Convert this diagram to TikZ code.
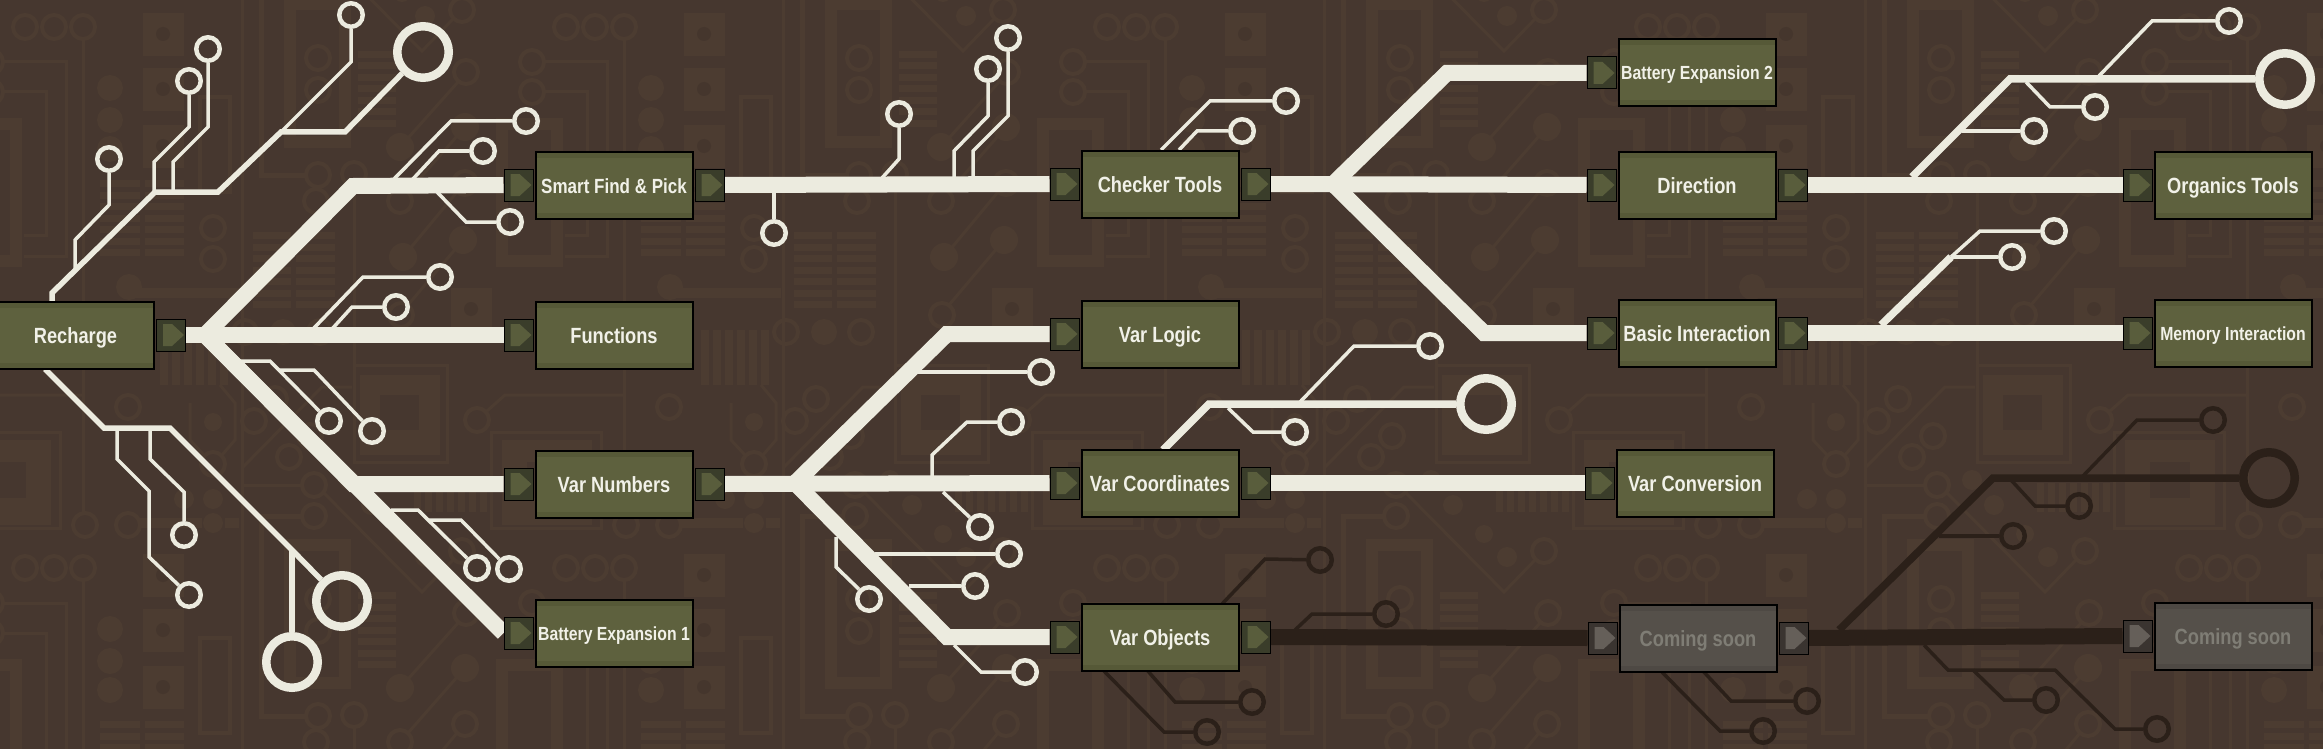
\documentclass[tikz,border=0pt]{standalone}
\usepackage{fontspec}
\setmainfont[FakeStretch=0.83]{Liberation Sans}
\usetikzlibrary{positioning}
\definecolor{bgbrown}{HTML}{46372F}
\definecolor{tilebrown}{HTML}{4C3C31}
\definecolor{tiledark}{HTML}{45362D}
\definecolor{cream}{HTML}{ECEBDF}
\definecolor{tracedark}{HTML}{2B2019}
\definecolor{boxgreen}{HTML}{5E613E}
\definecolor{bandgreen}{HTML}{565937}
\definecolor{portgreen}{HTML}{3A3D2A}
\definecolor{tipgreen}{HTML}{595D3C}
\definecolor{boxgrey}{HTML}{55504A}
\definecolor{bandgrey}{HTML}{4E4944}
\definecolor{portgrey}{HTML}{3A3430}
\definecolor{tipgrey}{HTML}{655F59}
\definecolor{labelwhite}{HTML}{F1F1E8}
\definecolor{labelgrey}{HTML}{7F7D75}
\pgfdeclarelayer{board}
\pgfdeclarelayer{traces}
\pgfsetlayers{board,traces,main}
\tikzset{
  techbox/.style 2 args={draw=black,line width=2pt,fill=#1,minimum width=157pt,minimum height=67pt,inner sep=0pt,
    text height=16pt,text depth=0pt,font=\bfseries\fontsize{22}{26}\selectfont,
    path picture={
      \fill[#2] (path picture bounding box.north west) rectangle ([yshift=-6pt]path picture bounding box.north east);
      \fill[#2] (path picture bounding box.south west) rectangle ([yshift=6pt]path picture bounding box.south east);}},
  greenbox/.style={techbox={boxgreen}{bandgreen},text=labelwhite},
  greybox/.style={techbox={boxgrey}{bandgrey},text=labelgrey},
  midlabel/.style={font=\bfseries\fontsize{20.5}{24}\selectfont},
  smalllabel/.style={font=\bfseries\fontsize{19}{23}\selectfont,text height=14pt},
  portbox/.style 2 args={draw=black,line width=1pt,fill=#1,minimum width=29pt,minimum height=32pt,inner sep=0pt,
    path picture={\fill[#2,shift={(path picture bounding box.center)}] (-8,-11) -- (1,-11) -- (13,0) -- (1,11) -- (-8,11) -- cycle;}},
  greenport/.style={portbox={portgreen}{tipgreen}},
  greyport/.style={portbox={portgrey}{tipgrey}},
  bus/.style={line width=16pt,cream},
  midwire/.style={line width=7.5pt,cream},
  lowwire/.style={line width=5.5pt,cream},
  wire/.style={line width=3.5pt,cream},
  darkbus/.style={line width=16pt,tracedark},
  darkmid/.style={line width=7.5pt,tracedark},
  darkwire/.style={line width=3.5pt,tracedark},
  ring/.style={circle,draw=cream,line width=4.5pt,minimum size=23.5pt,inner sep=0pt},
  bigring/.style={circle,draw=cream,line width=8.5pt,minimum size=51.5pt,inner sep=0pt},
  darkring/.style={ring,draw=tracedark},
  darkbig/.style={bigring,draw=tracedark},
  tileline/.style={draw=tilebrown,line width=3pt},
  tilethick/.style={draw=tilebrown,line width=12pt}
}
\newcommand{\circuittile}{
  \foreach \x/\y in {25/27,54/27,83/27,318/58,318/90,213/228,213/259,245/332,320/332,275/399,254/421,310/436,289/457,213/464,314/485,314/516,354/174,318/175,316/201,462/10,466/72,465/183,401/315,400/201,532/62,532/92,477/420,128/407,85/525,128/525}
    \draw[tileline,line width=4pt] (\x,\y) circle (12);
  \foreach \x/\y/\r in {110/88/13,110/120/13,110/149/13,283/332/13,213/422/9,184/499/10,213/499/10,213/523/10,349/480/10,371/505/10,402/534/9,425/16/10,400/147/14,465/127/14,403/257/14,463/240/14,129/287/13}
    \fill[tilebrown] (\x,\y) circle (\r);
  \foreach \x/\y in {143/13,143/68,143/125,451/288}{
    \fill[tilebrown] (\x,\y) rectangle ++(41,43);
    \fill[tiledark] (\x+20,\y+21) circle (7);}
  \foreach \n in {0,...,6}{
    \fill[tilebrown] (100,180+\n*11.5) rectangle ++(40,7);
    \fill[tilebrown] (145,180+\n*11.5) rectangle ++(39,7);
    \fill[tilebrown] (253,232+\n*11.5) rectangle ++(38,7);
    \fill[tilebrown] (296,232+\n*11.5) rectangle ++(39,7);
    \fill[tilebrown] (358,51+\n*11.5) rectangle ++(38,7);
    \fill[tilebrown] (414+\n*11,483) rectangle ++(7,29);}
  \foreach \n in {0,...,5}
    \fill[tilebrown] (160+\n*12,330) rectangle ++(8,55);
  \draw[tilethick] (290,4) rectangle (345,142);
  \draw[tilethick] (502,124) rectangle (557,261);
  \draw[tileline] (354,365) rectangle (447,462);
  \fill[tilebrown] (360,375) rectangle (440,455);
  \fill[bgbrown] (380,395) rectangle (419,430);
  \draw[tileline] (-50,432) rectangle (60,528);
  \fill[tilebrown] (-39,440) rectangle (51,525);
  \fill[bgbrown] (-14,462) rectangle (26,498);
  \draw[tileline] (83,40) -- (83,512);
  \draw[tileline] (242,0) -- (242,541);
  \draw[tileline] (354,187) -- (354,365);
  \draw[tileline,line width=5pt] (303,516) -- (261,516) -- (261,716) -- (305,716);
  \draw[tileline] (352,387) -- (322,387) -- (242,468);
  \draw[tileline] (242,485) -- (301,485);
  \draw[tileline] (324,493) -- (422,592) -- (453,560);
  \draw[tileline] (458,82) -- (400,147);
  \draw[tileline] (465,127) -- (408,192);
  \draw[tileline] (457,192) -- (403,257);
  \draw[tileline] (463,240) -- (408,305);
  \draw[tileline] (545,62) -- (607,62) -- (607,256) -- (565,256);
  \draw[tileline] (545,92) -- (587,92) -- (587,235) -- (565,235);
  \draw[tileline] (487,411) -- (505,395) -- (624,395);
  \draw[tileline,line width=4pt] (200,97) rectangle (230,192);
  \fill[tilebrown] (129,288) rectangle (240,298);
  \fill[tilebrown] (140,518) rectangle (202,528);
  \fill[tilebrown] (225,518) rectangle (239,528);
  \draw[tileline] (220,385) -- (235,403) -- (235,440) -- (222,455);
  \draw[tileline] (190,403) -- (190,440) -- (204,455);
}
\begin{document}
\begin{tikzpicture}[x=1pt,y=-1pt]
  \useasboundingbox (0,0) rectangle (2323,749);
  \begin{pgfonlayer}{board}
    \fill[bgbrown] (0,0) rectangle (2323,749);
    \foreach \tx in {-541,0,541,1082,1623,2164}
      \foreach \ty in {-541,0,541}{
        \begin{scope}[shift={(\tx,\ty)}]
          \circuittile
        \end{scope}
      }
  \end{pgfonlayer}

  \node[greenbox] (recharge) at (75.5,335) {Recharge};
  \node[greenbox,midlabel] (smart) at (614,185) {Smart Find \& Pick};
  \node[greenbox] (functions) at (614,335) {Functions};
  \node[greenbox] (varnumbers) at (614,484) {Var Numbers};
  \node[greenbox,smalllabel] (batteryone) at (614,633) {Battery Expansion 1};
  \node[greenbox] (checker) at (1160,184) {Checker Tools};
  \node[greenbox] (varlogic) at (1160,334) {Var Logic};
  \node[greenbox] (varcoord) at (1160,483) {Var Coordinates};
  \node[greenbox] (varobjects) at (1160,637) {Var Objects};
  \node[greenbox,smalllabel] (batterytwo) at (1697,73) {Battery Expansion 2};
  \node[greenbox] (direction) at (1697,185) {Direction};
  \node[greenbox] (basic) at (1697,333) {Basic Interaction};
  \node[greenbox] (varconv) at (1695,483) {Var Conversion};
  \node[greybox] (soonone) at (1698,638) {Coming soon};
  \node[greenbox] (organics) at (2233,185) {Organics Tools};
  \node[greenbox,smalllabel] (memory) at (2233,333) {Memory Interaction};
  \node[greybox] (soontwo) at (2233,636) {Coming soon};

  \foreach \name in {smart,functions,varnumbers,batteryone,checker,varlogic,varcoord,varobjects,batterytwo,direction,basic,varconv,organics,memory}
    \node[greenport,left=1pt of \name] (\name-in) {};
  \foreach \name in {recharge,smart,varnumbers,checker,direction,basic,varcoord,varobjects}
    \node[greenport,right=1pt of \name] (\name-out) {};
  \node[greyport,left=1pt of soonone] (soonone-in) {};
  \node[greyport,right=1pt of soonone] (soonone-out) {};
  \node[greyport,left=1pt of soontwo] (soontwo-in) {};

  \foreach \name/\sx/\sy/\x/\y in {a/281/132/351/15,b/173/192/208/49,c/154/192/189/81,d/75/270/109/159,
    e/393/180/526/121,f/412/180/483/151,g/437/192/510/222,h/313/329/440/277,i/332/329/396/307,
    j/240/361/329/421,k/279/370/372/431,l/117/428/189/595,m/150/428/184/535,n/391/510/477/568,o/428/520/509/569,
    p/774/192/774/233,q/882/178/899/114,r/954/178/988/69,s/973/178/1008/38,t/1161/150/1286/101,u/1179/150/1242/131,
    v/2098/77/2229/21,w/2026/82/2095/107,x/1962/131/2034/131,y/1951/257/2054/231,z/1951/257/2012/257,
    aa/918/372/1041/372,ab/932/476/1011/422,ac/943/492/980/527,ad/875/554/1009/554,ae/909/586/975/586,
    af/836/537/869/599,ag/954/645/1025/672,ah/1300/402/1430/346,ai/1228/408/1295/432}{
    \coordinate (s\name) at (\sx,\sy);
    \node[ring] (r\name) at (\x,\y) {};
  }
  \foreach \name/\sx/\sy/\x/\y in {a/1222/604/1320/560,b/1295/630/1386/614,c/1147/670/1252/702,d/1103/670/1207/732,
    e/2083/476/2213/420,f/2011/480/2079/506,g/1939/536/2013/536,h/1924/645/2157/729,i/1973/670/2046/700,
    j/1702/670/1807/701,k/1660/670/1763/731}{
    \coordinate (ds\name) at (\sx,\sy);
    \node[darkring] (dr\name) at (\x,\y) {};
  }
  \node[bigring] (bigtop) at (423,52) {};
  \node[bigring] (bigleft) at (342,601) {};
  \node[bigring] (bigdown) at (292,662) {};
  \node[bigring] (bigcoord) at (1486,404) {};
  \node[bigring] (bigdir) at (2285,79) {};
  \node[darkbig] (bigdark) at (2269,478) {};

  \coordinate (forka) at (205,335);
  \coordinate (forkb) at (795,483);
  \coordinate (forkc) at (1333,184);
  \coordinate (forkd) at (1839,630);
  \coordinate (rechargetop) at (52,301);
  \coordinate (rechargelow) at (45,369);
  \coordinate (coordtop) at (1163,450);
  \coordinate (dirtap) at (1912,177);
  \coordinate (basictap) at (1881,325);
  \coordinate (basicbend) at (1951,257);
  \coordinate (lowtap) at (292,550);

  \begin{pgfonlayer}{traces}
    \draw[bus] (recharge-out.east) -- (functions-in.west);
    \draw[bus] (forka) -- (353,186) -- (smart-in.west);
    \draw[bus] (forka) -- (353,484) -- (varnumbers-in.west);
    \draw[bus] (forka) -- (batteryone-in.west);
    \draw[bus] (smart-out.east) -- (checker-in.west);
    \draw[bus] (varnumbers-out.east) -- (varcoord-in.west);
    \draw[bus] (forkb) -- (947,334) -- (varlogic-in.west);
    \draw[bus] (forkb) -- (947,637) -- (varobjects-in.west);
    \draw[bus] (varcoord-out.east) -- (varconv-in.west);
    \draw[bus] (checker-out.east) -- (direction-in.west);
    \draw[bus] (forkc) -- (1447,73) -- (batterytwo-in.west);
    \draw[bus] (forkc) -- (1484,333) -- (basic-in.west);
    \draw[bus] (direction-out.east) -- (organics-in.west);
    \draw[bus] (basic-out.east) -- (memory-in.west);
    \draw[darkbus] (varobjects-out.east) -- (soonone-in.west);
    \draw[darkbus] (soonone-out.east) -- (soontwo-in.west);

    \draw[lowwire] (rechargetop) -- (52,293) -- (155,192) -- (218,192) -- (281,132) -- (345,132) -- (bigtop);
    \draw[lowwire] (rechargelow) -- (104,428) -- (170,428) -- (lowtap) -- (bigleft);
    \draw[lowwire,line width=6pt] (lowtap) -- (bigdown);
    \draw[midwire] (coordtop) -- (1209,404) -- (bigcoord);
    \draw[midwire] (dirtap) -- (2010,79) -- (bigdir);
    \draw[midwire] (basictap) -- (basicbend);
    \draw[darkmid] (forkd) -- (1993,478) -- (bigdark);

    \draw[wire] (sa) -- (351,62) -- (ra);
    \draw[wire] (sb) -- (173,162) -- (208,127) -- (rb);
    \draw[wire] (sc) -- (154,162) -- (189,127) -- (rc);
    \draw[wire] (sd) -- (75,240) -- (109,205) -- (rd);
    \draw[wire] (se) -- (451,121) -- (re);
    \draw[wire] (sf) -- (439,151) -- (rf);
    \draw[wire] (sg) -- (466,222) -- (rg);
    \draw[wire] (sh) -- (363,277) -- (rh);
    \draw[wire] (si) -- (352,307) -- (ri);
    \draw[wire] (sj) -- (270,361) -- (rj);
    \draw[wire] (sk) -- (314,370) -- (rk);
    \draw[wire] (sl) -- (117,459) -- (149,491) -- (149,557) -- (rl);
    \draw[wire] (sm) -- (150,459) -- (184,492) -- (rm);
    \draw[wire] (sn) -- (418,510) -- (rn);
    \draw[wire] (so) -- (461,520) -- (ro);
    \draw[wire] (sp) -- (rp);
    \draw[wire] (sq) -- (899,159) -- (rq);
    \draw[wire] (sr) -- (954,151) -- (988,116) -- (rr);
    \draw[wire] (ss) -- (973,151) -- (1008,116) -- (rs);
    \draw[wire] (st) -- (1210,101) -- (rt);
    \draw[wire] (su) -- (1197,131) -- (ru);
    \draw[wire] (sv) -- (2152,21) -- (rv);
    \draw[wire] (sw) -- (2050,107) -- (rw);
    \draw[wire] (sx) -- (rx);
    \draw[wire] (sy) -- (1980,231) -- (ry);
    \draw[wire] (sz) -- (rz);
    \draw[wire] (saa) -- (raa);
    \draw[wire] (sab) -- (932,455) -- (967,422) -- (rab);
    \draw[wire] (sac) -- (rac);
    \draw[wire] (sad) -- (rad);
    \draw[wire] (sae) -- (rae);
    \draw[wire] (saf) -- (836,567) -- (raf);
    \draw[wire] (sag) -- (981,672) -- (rag);
    \draw[wire] (sah) -- (1354,346) -- (rah);
    \draw[wire] (sai) -- (1253,432) -- (rai);

    \draw[darkwire] (dsa) -- (1265,559) -- (dra);
    \draw[darkwire] (dsb) -- (1312,614) -- (drb);
    \draw[darkwire] (dsc) -- (1175,702) -- (drc);
    \draw[darkwire] (dsd) -- (1164,732) -- (drd);
    \draw[darkwire] (dse) -- (2137,420) -- (dre);
    \draw[darkwire] (dsf) -- (2035,506) -- (drf);
    \draw[darkwire] (dsg) -- (drg);
    \draw[darkwire] (dsh) -- (1948,670) -- (2055,670) -- (2115,729) -- (drh);
    \draw[darkwire] (dsi) -- (2004,700) -- (dri);
    \draw[darkwire] (dsj) -- (1731,701) -- (drj);
    \draw[darkwire] (dsk) -- (1720,731) -- (drk);
  \end{pgfonlayer}
\end{tikzpicture}
\end{document}
